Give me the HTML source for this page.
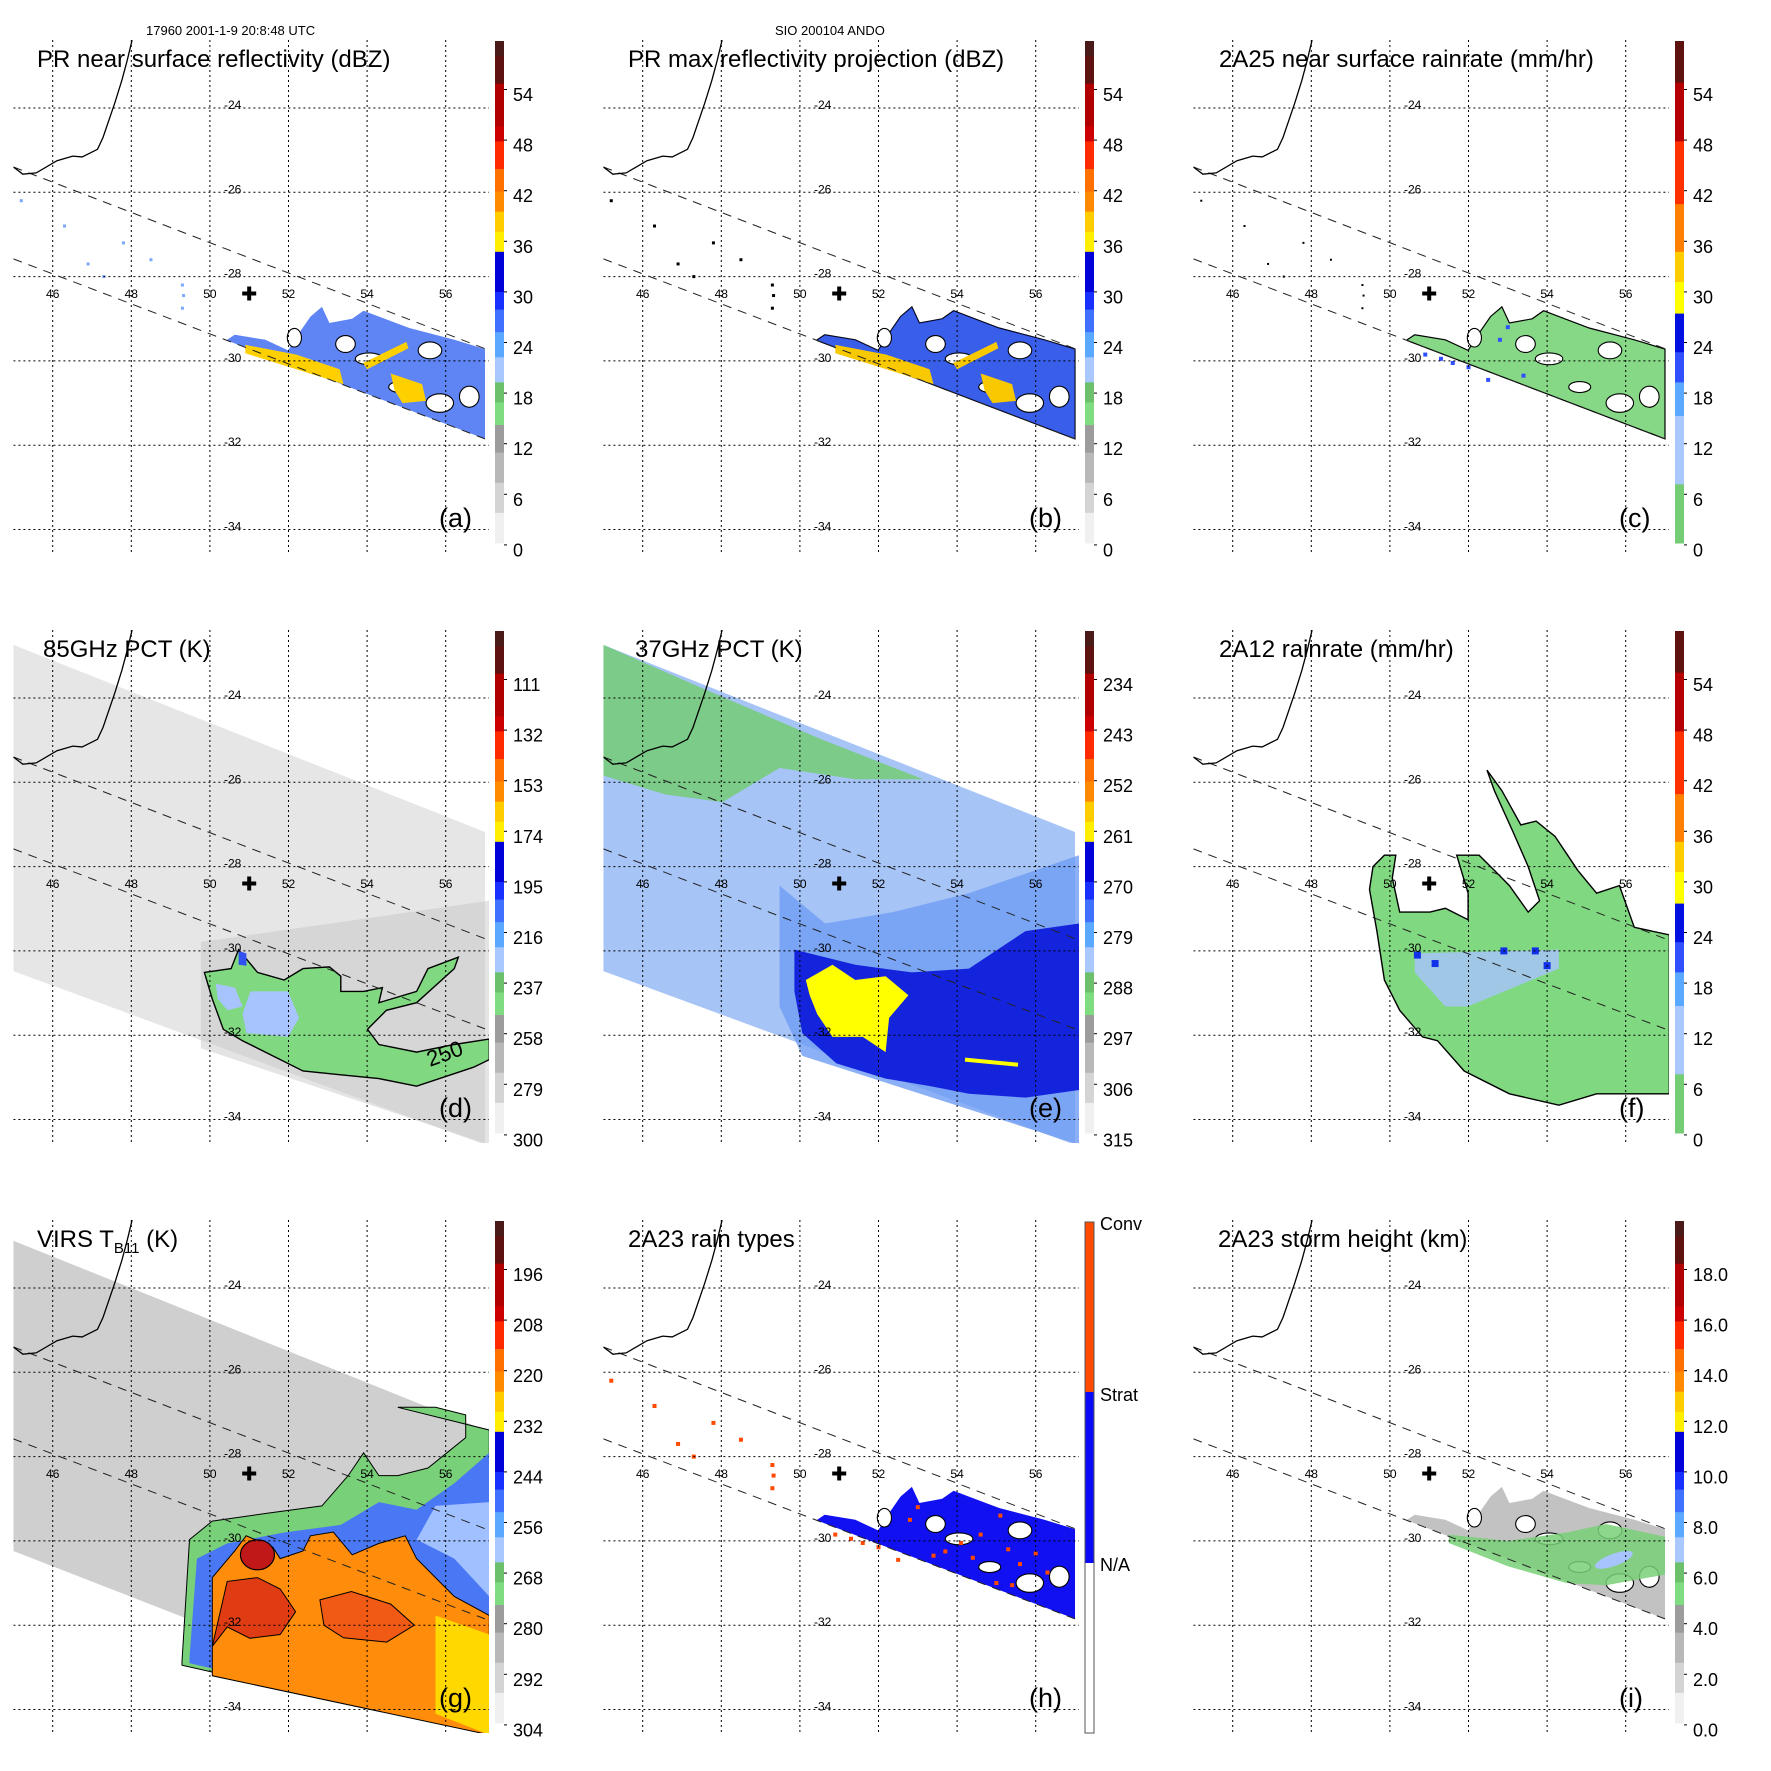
<!DOCTYPE html>
<html><head><meta charset="utf-8"><title>TRMM multi-panel</title>
<style>
html,body{margin:0;padding:0;background:#fff;}
svg{display:block;font-family:"Liberation Sans",Arial,sans-serif;}
</style></head>
<body>
<svg id="fig" width="1771" height="1771" viewBox="0 0 1771 1771" xmlns="http://www.w3.org/2000/svg">
<rect x="0" y="0" width="1771" height="1771" fill="#fff"/>
<text x="146" y="35" font-size="13">17960 2001-1-9 20:8:48 UTC</text>
<text x="775" y="35" font-size="13">SIO 200104 ANDO</text>
</svg>
<script>
// ---- axis ticks ----
const lonTicks = [46, 48, 50, 52, 54, 56];
const latTicks = [-24, -26, -28, -30, -32, -34];
// ---- colorbar tick labels per panel ----
const cbLabelsA = ['54','48','42','36','30','24','18','12','6','0'];
const cbLabelsD = ['111','132','153','174','195','216','237','258','279','300'];
const cbLabelsE = ['234','243','252','261','270','279','288','297','306','315'];
const cbLabelsG = ['196','208','220','232','244','256','268','280','292','304'];
const cbLabelsI = ['18.0','16.0','14.0','12.0','10.0','8.0','6.0','4.0','2.0','0.0'];
const cbLabelsH = ['Conv','Strat','N/A'];
// ---- geography (lon, lat) ----
const coastline = [[45.0,-25.40],[45.24,-25.57],[45.58,-25.54],[46.11,-25.25],[46.51,-25.14],[46.75,-25.16],[47.14,-24.98],[47.28,-24.70],[47.58,-23.88],[47.76,-23.34],[47.89,-22.89],[48.02,-22.39]];
const prUpperEdge = [[45,-25.40],[57,-29.71]];
const prLowerEdge = [[45,-27.58],[57,-31.85]];
const tmiSwath = [[45,-22.74],[57,-27.18],[57,-34.60],[45,-30.48]];
const virsSwath = [[45,-22.88],[57,-27.37],[57,-34.60],[45,-30.24]];
const stormCenter = [51.0,-28.4];
// ---- PR rain area ----
const rainTop = [[50.44,-29.50],[50.63,-29.38],[51.41,-29.50],[51.99,-29.75],[52.3,-29.3],[52.56,-28.95],[52.85,-28.72],[53.04,-29.1],[53.62,-29.0],[53.91,-28.81],[54.30,-28.95],[55.07,-29.22],[56.22,-29.50],[57.0,-29.72]];
const rainHoles = [[54.05,-29.95,0.35,0.14],[54.83,-30.62,0.28,0.13],[55.85,-31.0,0.35,0.22],[55.6,-29.75,0.3,0.2],[52.15,-29.45,0.18,0.22],[53.45,-29.6,0.25,0.2],[56.6,-30.85,0.25,0.25]];
const convCells = [[50.9,-29.85],[51.3,-29.95],[51.6,-30.05],[52.0,-30.15],[52.5,-30.45],[52.8,-29.5],[53.0,-29.2],[53.4,-30.35],[53.7,-30.25],[54.1,-30.05],[54.4,-30.4],[54.6,-29.85],[55.1,-29.4],[55.3,-30.2],[55.6,-30.55],[55.0,-31.0],[55.4,-31.05],[56.0,-30.3],[56.3,-30.75],[49.3,-28.2],[49.33,-28.45],[49.3,-28.75],[47.3,-28.0],[46.9,-27.7],[47.8,-27.2],[48.5,-27.6],[46.3,-26.8],[45.2,-26.2]];
const yellowStreakA = [[50.9,-29.62],[52.2,-29.85],[53.3,-30.2],[53.4,-30.55],[52.2,-30.2],[50.9,-29.82]];
const yellowStreakA2 = [[54.6,-30.3],[55.4,-30.55],[55.5,-30.95],[54.9,-31.0],[54.7,-30.7]];
const yellowStreakA3 = [[53.9,-30.05],[55.0,-29.55],[55.05,-29.7],[54.0,-30.2]];
// ---- 85 GHz (d) ----
const d85Green = [[49.86,-30.51],[50.54,-30.42],[50.73,-29.97],[51.21,-30.51],[51.89,-30.69],[52.37,-30.42],[53.04,-30.38],[53.33,-30.60],[53.33,-30.96],[53.91,-30.96],[54.39,-30.87],[54.30,-31.23],[55.26,-30.96],[55.55,-30.42],[56.32,-30.15],[56.22,-30.42],[55.26,-31.23],[54.49,-31.41],[54.01,-31.86],[54.30,-32.22],[55.26,-32.40],[56.22,-32.22],[57.11,-32.09],[57.11,-32.58],[56.71,-32.76],[55.26,-33.21],[54.30,-33.03],[53.33,-32.94],[52.37,-32.85],[51.41,-32.40],[50.83,-32.13],[50.34,-31.86],[50.06,-31.14]];
const d85Blue1 = [[50.15,-30.78],[50.64,-30.87],[50.83,-31.32],[50.45,-31.41],[50.20,-31.14]];
const d85Blue2 = [[51.03,-30.96],[51.99,-30.96],[52.27,-31.59],[51.99,-32.04],[50.93,-31.95],[50.83,-31.50]];
const d85Dark = [[50.73,-30.0],[50.93,-30.06],[50.93,-30.35],[50.73,-30.33]];
const d85DarkGray = [[49.77,-29.79],[57.11,-28.81],[57.11,-34.6],[49.77,-32.31]];
// ---- 37 GHz (e) ----
const e37Green = [[45.0,-22.74],[47.55,-23.78],[50.44,-24.94],[53.14,-25.93],[51.41,-25.93],[49.48,-25.66],[48.03,-26.47],[46.58,-26.29],[45.0,-25.84]];
const e37Mid = [[49.48,-28.45],[50.64,-29.35],[52.37,-29.08],[54.30,-28.63],[57.11,-27.73],[57.11,-34.6],[50.06,-32.49],[49.48,-31.32]];
const e37Dark = [[49.86,-29.97],[51.41,-30.33],[52.85,-30.51],[54.30,-30.42],[55.74,-29.53],[57.11,-29.35],[57.11,-33.30],[55.74,-33.48],[54.30,-33.39],[53.33,-33.21],[52.18,-33.03],[50.93,-32.67],[50.06,-31.95],[49.86,-30.96]];
const e37Yellow = [[50.15,-30.69],[50.83,-30.33],[51.41,-30.69],[52.18,-30.60],[52.76,-31.05],[52.27,-31.59],[52.18,-32.40],[51.60,-32.04],[50.83,-32.04],[50.44,-31.50],[50.25,-31.05]];
const e37YellowStreak = [[54.20,-32.58],[55.55,-32.70]];
// ---- 2A12 (f) ----
const f12Green = [[52.47,-25.71],[52.85,-26.20],[53.33,-27.01],[53.72,-26.92],[54.20,-27.28],[54.78,-28.09],[55.26,-28.63],[55.84,-28.45],[56.22,-29.44],[57.11,-29.62],[57.11,-33.39],[55.26,-33.39],[54.30,-33.66],[53.04,-33.39],[51.89,-32.85],[51.21,-32.13],[50.83,-32.04],[50.25,-31.41],[49.86,-30.69],[49.67,-29.53],[49.48,-28.54],[49.57,-28.00],[49.86,-27.73],[50.15,-27.73],[50.06,-28.27],[50.25,-29.08],[51.02,-29.08],[51.41,-28.99],[51.99,-29.26],[51.99,-28.63],[51.70,-27.73],[52.27,-27.73],[52.66,-28.09],[53.04,-28.45],[53.52,-29.08],[53.81,-28.81],[53.52,-28.00],[53.14,-27.19],[52.66,-26.20]];
const f12Blue = [[50.63,-30.06],[54.30,-29.97],[54.30,-30.42],[51.98,-31.32],[51.41,-31.32],[50.63,-30.51]];
const f12DarkCells = [[50.7,-30.1],[51.15,-30.3],[52.9,-30.0],[53.7,-30.0],[54.0,-30.35]];
// ---- VIRS (g) ----
const gGreen = [[49.29,-32.86],[49.48,-29.97],[50.06,-29.53],[51.41,-29.35],[52.85,-29.17],[53.52,-28.45],[53.91,-27.91],[54.30,-28.45],[54.78,-28.45],[55.55,-28.27],[56.03,-27.91],[56.51,-27.55],[56.51,-27.01],[55.74,-26.83],[54.78,-26.83],[57.11,-27.37],[57.11,-34.6],[49.29,-32.95]];
const gBlue = [[49.48,-32.77],[49.67,-30.42],[50.44,-30.06],[51.89,-29.80],[53.33,-29.62],[54.30,-29.08],[55.26,-29.26],[56.22,-28.63],[57.11,-27.91],[57.11,-34.6],[49.48,-32.9]];
const gLightBlue = [[55.74,-29.17],[57.11,-29.08],[57.11,-31.32],[56.22,-30.42],[55.26,-29.97]];
const gOrange = [[50.06,-33.04],[50.06,-30.87],[50.63,-30.24],[50.92,-29.88],[51.60,-30.15],[51.79,-30.42],[52.37,-30.24],[52.56,-29.88],[53.14,-29.79],[53.62,-30.33],[54.30,-30.06],[54.97,-29.88],[55.26,-30.42],[55.74,-30.87],[56.22,-31.32],[57.11,-31.77],[57.11,-34.6],[50.06,-33.2]];
const gYellow = [[55.74,-31.77],[57.11,-32.22],[57.11,-34.6],[55.74,-34.1]];
const gRed = [[50.06,-32.50],[50.44,-30.96],[51.21,-30.87],[51.79,-31.14],[52.18,-31.68],[51.79,-32.22],[51.02,-32.31],[50.44,-32.04]];
const gRed2 = [[52.8,-31.4],[53.6,-31.2],[54.6,-31.5],[55.2,-32.0],[54.5,-32.4],[53.4,-32.3],[52.9,-32.0]];
const gCore = [51.21,-30.33];
// ---- storm height (i) ----
const iGreen = [[51.5,-29.85],[53,-30.0],[54.5,-29.8],[55.5,-29.6],[57,-29.9],[57,-30.8],[55.5,-31.05],[54.5,-31.0],[53,-30.6],[51.5,-30.05]];
const iBlue = [55.7,-30.45];
// ---- palettes (fraction top, fraction bottom, colour) ----
const palA = [[0,0.03,'#4a1a18'],[0.03,0.085,'#5e1210'],[0.085,0.17,'#b00000'],[0.17,0.2,'#cc0000'],[0.2,0.255,'#ff2a00'],[0.255,0.30,'#ff7000'],[0.30,0.34,'#ff8a00'],[0.34,0.38,'#ffcc00'],[0.38,0.42,'#ffee00'],[0.42,0.50,'#0000d8'],[0.50,0.535,'#1830ff'],[0.535,0.58,'#4070ff'],[0.58,0.63,'#5aa8ff'],[0.63,0.68,'#a8c8ff'],[0.68,0.72,'#6cc06c'],[0.72,0.765,'#80dc80'],[0.765,0.82,'#9c9c9c'],[0.82,0.88,'#b8b8b8'],[0.88,0.94,'#d4d4d4'],[0.94,1,'#f0f0f0']];
const palC = [[0,0.083,'#5e1210'],[0.083,0.2,'#b40000'],[0.2,0.325,'#ff3000'],[0.325,0.42,'#ff8000'],[0.42,0.48,'#ffcc00'],[0.48,0.543,'#ffff00'],[0.543,0.62,'#0010e0'],[0.62,0.68,'#3050ff'],[0.68,0.747,'#5aa8ff'],[0.747,0.883,'#a8c8ff'],[0.883,1,'#74cc74']];

const NS = 'http://www.w3.org/2000/svg';
const svg = document.getElementById('fig');
function X(lon){ return 13.4 + (lon - 45) * 39.3; }
function Y(lat){ return 108 + (-24 - lat) * 42.15; }
function lowLat(lon){ return prLowerEdge[0][1] + (lon - 45) * (prLowerEdge[1][1] - prLowerEdge[0][1]) / 12; }
function pts(a){ return a.map(p => X(p[0]).toFixed(1) + ',' + Y(p[1]).toFixed(1)).join(' '); }
function mk(tag, parent, attrs){
  const e = document.createElementNS(NS, tag);
  for (const k in attrs) e.setAttribute(k, attrs[k]);
  parent.appendChild(e);
  return e;
}
function rainPoly(){
  const a = rainTop.slice();
  for (let lon = 57; lon >= rainTop[0][0]; lon -= 0.5) a.push([lon, lowLat(lon)]);
  a.push([rainTop[0][0], lowLat(rainTop[0][0])]);
  return a;
}
function poly(g, arr, fill, name, extra){
  const p = mk('polygon', g, Object.assign({points: pts(arr), fill: fill}, extra || {}));
  
  
  return p;
}
function holes(g, fill){
  rainHoles.forEach(h => {
    const e = mk('ellipse', g, {cx: X(h[0]), cy: Y(h[1]), rx: h[2]*39.3, ry: h[3]*42.15, fill: fill, stroke: '#000', 'stroke-width': 1.1});
    
    
  });
}
function dots(g, arr, color, size){
  arr.forEach(c => {
    const r = mk('rect', g, {x: X(c[0]) - size/2, y: Y(c[1]) - size/2, width: size, height: size, fill: color});
    
    
  });
}

const panels = [
 {id:'a', ox:0, oy:0, title:'PR near surface reflectivity (dBZ)', tx:37, pal:palA, labels:cbLabelsA},
 {id:'b', ox:590, oy:0, title:'PR max reflectivity projection (dBZ)', tx:38, pal:palA, labels:cbLabelsA},
 {id:'c', ox:1180, oy:0, title:'2A25 near surface rainrate (mm/hr)', tx:39, pal:palC, labels:cbLabelsA},
 {id:'d', ox:0, oy:590, title:'85GHz PCT (K)', tx:43, pal:palA, labels:cbLabelsD},
 {id:'e', ox:590, oy:590, title:'37GHz PCT (K)', tx:45, pal:palA, labels:cbLabelsE},
 {id:'f', ox:1180, oy:590, title:'2A12 rainrate (mm/hr)', tx:39, pal:palC, labels:cbLabelsA},
 {id:'g', ox:0, oy:1180, title:'VIRS', tx:37, pal:palA, labels:cbLabelsG},
 {id:'h', ox:590, oy:1180, title:'2A23 rain types', tx:38, pal:null, labels:cbLabelsH},
 {id:'i', ox:1180, oy:1180, title:'2A23 storm height (km)', tx:38, pal:palA, labels:cbLabelsI}
];

panels.forEach(P => {
  const g = mk('g', svg, {transform: 'translate(' + P.ox + ',' + P.oy + ')'});
  
  
  const cp = mk('clipPath', g, {id: 'clip' + P.id});
  mk('rect', cp, {x: 13.4, y: 40, width: 475.6, height: 513});
  const m = mk('g', g, {'clip-path': 'url(#clip' + P.id + ')'});
  
  

  const rp = rainPoly();
  if (P.id === 'a') {
    poly(m, rp, '#8cb4fa', 'reflectivity-area');
    poly(m, rp, '#3a5ef0', 'reflectivity-core', {opacity: 0.55});
    holes(m, '#fff');
    poly(m, yellowStreakA, '#ffd000', 'reflectivity-yellow-band');
    poly(m, yellowStreakA2, '#ffd000', 'reflectivity-yellow-band');
    poly(m, yellowStreakA3, '#ffd000', 'reflectivity-yellow-band');
    dots(m, convCells.slice(19), '#7aa8ff', 3);
  } else if (P.id === 'b') {
    poly(m, rp, '#4a78f0', 'max-reflectivity-area', {stroke: '#000', 'stroke-width': 1.2});
    poly(m, rp, '#1a30e0', 'max-reflectivity-core', {opacity: 0.35});
    holes(m, '#fff');
    poly(m, yellowStreakA, '#f8c800', 'max-reflectivity-yellow-band');
    poly(m, yellowStreakA2, '#f8c800', 'max-reflectivity-yellow-band');
    poly(m, yellowStreakA3, '#f8c800', 'max-reflectivity-yellow-band');
    dots(m, convCells.slice(19), '#000', 3);
  } else if (P.id === 'c') {
    poly(m, rp, '#86d886', 'rainrate-area', {stroke: '#000', 'stroke-width': 1.2});
    holes(m, '#fff');
    dots(m, convCells.slice(0, 8), '#3050ff', 4);
    dots(m, convCells.slice(19), '#000', 2);
  } else if (P.id === 'd') {
    poly(m, tmiSwath, '#e6e6e6', 'tmi-swath');
    poly(m, d85DarkGray, '#c4c4c4', 'cold-scattering-zone', {opacity: 0.45});
    poly(m, d85Green, '#80d880', 'pct-below-250', {stroke: '#000', 'stroke-width': 1.4});
    poly(m, d85Blue1, '#a8c4ff', 'pct-below-237');
    poly(m, d85Blue2, '#a8c4ff', 'pct-below-237');
    poly(m, d85Dark, '#3050f0', 'pct-below-216');
    const c = mk('text', m, {x: X(55.6), y: Y(-32.75), 'font-size': 22, fill: '#000', transform: 'rotate(-20 ' + X(55.6) + ' ' + Y(-32.75) + ')'});
    c.textContent = '250';
    
    
  } else if (P.id === 'e') {
    poly(m, tmiSwath, '#a6c4f6', 'tmi-swath');
    poly(m, e37Green, '#74cc74', 'warm-pct-area', {opacity: 0.85});
    poly(m, e37Mid, '#6f9cf4', 'pct-270-279', {opacity: 0.8});
    poly(m, e37Dark, '#1424dc', 'pct-below-270');
    poly(m, e37Yellow, '#ffff00', 'pct-below-261');
    const l = mk('line', m, {x1: X(e37YellowStreak[0][0]), y1: Y(e37YellowStreak[0][1]), x2: X(e37YellowStreak[1][0]), y2: Y(e37YellowStreak[1][1]), stroke: '#ffff00', 'stroke-width': 4});
    
    
  } else if (P.id === 'f') {
    poly(m, f12Green, '#80d880', 'rainrate-area', {stroke: '#000', 'stroke-width': 1.4});
    poly(m, f12Blue, '#a8c4ff', 'rainrate-6-12', {opacity: 0.8});
    dots(m, f12DarkCells, '#1030e8', 7);
  } else if (P.id === 'g') {
    poly(m, virsSwath, '#cfcfcf', 'virs-swath');
    poly(m, gGreen, '#78d078', 'tb-below-268', {stroke: '#000', 'stroke-width': 1});
    poly(m, gBlue, '#4a78f4', 'tb-below-256');
    poly(m, gLightBlue, '#a0c0ff', 'tb-256-260');
    poly(m, gOrange, '#ff8c0a', 'tb-below-232', {stroke: '#000', 'stroke-width': 1});
    poly(m, gYellow, '#ffd800', 'tb-220-232');
    poly(m, gRed, '#e03c14', 'tb-below-208', {stroke: '#000', 'stroke-width': 1});
    poly(m, gRed2, '#f05a14', 'tb-below-214', {stroke: '#000', 'stroke-width': 1});
    const e = mk('ellipse', m, {cx: X(gCore[0]), cy: Y(gCore[1]), rx: 17, ry: 15, fill: '#c01818', stroke: '#000', 'stroke-width': 1.2});
    
    
  } else if (P.id === 'h') {
    poly(m, rp, '#1010f0', 'stratiform-area');
    holes(m, '#fff');
    dots(m, convCells, '#ff4a00', 4);
  } else if (P.id === 'i') {
    poly(m, rp, '#c2c2c2', 'storm-height-area');
    holes(m, '#fff');
    poly(m, iGreen, '#78d078', 'storm-height-5-6km', {opacity: 0.85});
    const e = mk('ellipse', m, {cx: X(iBlue[0]), cy: Y(iBlue[1]), rx: 20, ry: 6, fill: '#a8c4ff', transform: 'rotate(-20 ' + X(iBlue[0]) + ' ' + Y(iBlue[1]) + ')'});
    
    
  }

  // gridlines
  lonTicks.forEach(lon => {
    const l = mk('line', m, {x1: X(lon), y1: 40, x2: X(lon), y2: 553, stroke: '#000', 'stroke-width': 1, 'stroke-dasharray': '2,3'});
    
    
  });
  latTicks.forEach(lat => {
    const l = mk('line', m, {x1: 13.4, y1: Y(lat), x2: 489, y2: Y(lat), stroke: '#000', 'stroke-width': 1, 'stroke-dasharray': '2,3'});
    
    
  });
  // PR swath edges
  [prUpperEdge, prLowerEdge].forEach((ed, k) => {
    const l = mk('line', m, {x1: X(ed[0][0]), y1: Y(ed[0][1]), x2: X(ed[1][0]), y2: Y(ed[1][1]), stroke: '#222', 'stroke-width': 1, 'stroke-dasharray': '9,7'});
    
    
  });
  // coastline
  const cl = mk('polyline', m, {points: pts(coastline), fill: 'none', stroke: '#000', 'stroke-width': 1.3});
  
  
  // storm centre cross
  const cx = X(stormCenter[0]), cy = Y(stormCenter[1]);
  const cr = mk('path', g, {d: 'M' + (cx-7) + ' ' + cy + 'H' + (cx+7) + 'M' + cx + ' ' + (cy-7) + 'V' + (cy+7), stroke: '#000', 'stroke-width': 4});
  
  
  // tick labels
  lonTicks.forEach(lon => {
    const t = mk('text', g, {x: X(lon), y: 298, 'font-size': 12, 'text-anchor': 'middle'});
    t.textContent = String(lon);
    
    
  });
  latTicks.forEach(lat => {
    const t = mk('text', g, {x: 224, y: Y(lat) + 1, 'font-size': 12});
    t.textContent = String(lat);
    
    
  });
  // title
  const tt = mk('text', g, {x: P.tx, y: 67, 'font-size': 24});
  
  
  if (P.id === 'g') {
    const s1 = mk('tspan', tt, {}); s1.textContent = 'VIRS T';
    const s2 = mk('tspan', tt, {'font-size': 15, dy: 6}); s2.textContent = 'B11';
    const s3 = mk('tspan', tt, {dy: -6}); s3.textContent = ' (K)';
  } else {
    tt.textContent = P.title;
  }
  // panel letter
  const pl = mk('text', g, {x: 439, y: 527, 'font-size': 27});
  pl.textContent = '(' + P.id + ')';
  
  

  // colorbar
  const cb = mk('g', g, {});
  
  
  if (P.pal) {
    const top = 41, h = 502;
    P.pal.forEach(s => {
      const r = mk('rect', cb, {x: 495, y: top + s[0]*h, width: 9, height: (s[1]-s[0])*h + 0.5, fill: s[2]});
      
      
    });
    P.labels.forEach((lab, i) => {
      const y = 94.5 + i * 50.6;
      mk('line', cb, {x1: 504, y1: y - 5, x2: 507, y2: y - 5, stroke: '#000', 'stroke-width': 1});
      const t = mk('text', cb, {x: 513, y: y + 6.5, 'font-size': 18});
      t.textContent = lab;
      
      
    });
  } else {
    const segs = [[42,212,'#ff4a00'],[212,383,'#0a0af8'],[383,553,'#ffffff']];
    segs.forEach(s => {
      const r = mk('rect', cb, {x: 495, y: s[0], width: 9, height: s[1]-s[0], fill: s[2]});
      
      
    });
    mk('rect', cb, {x: 495, y: 42, width: 9, height: 511, fill: 'none', stroke: '#555', 'stroke-width': 1});
    const ys = [43, 214, 384];
    P.labels.forEach((lab, i) => {
      const t = mk('text', cb, {x: 510, y: ys[i] + 7, 'font-size': 18});
      t.textContent = lab;
      
      
    });
  }
});
</script>
</body></html>
